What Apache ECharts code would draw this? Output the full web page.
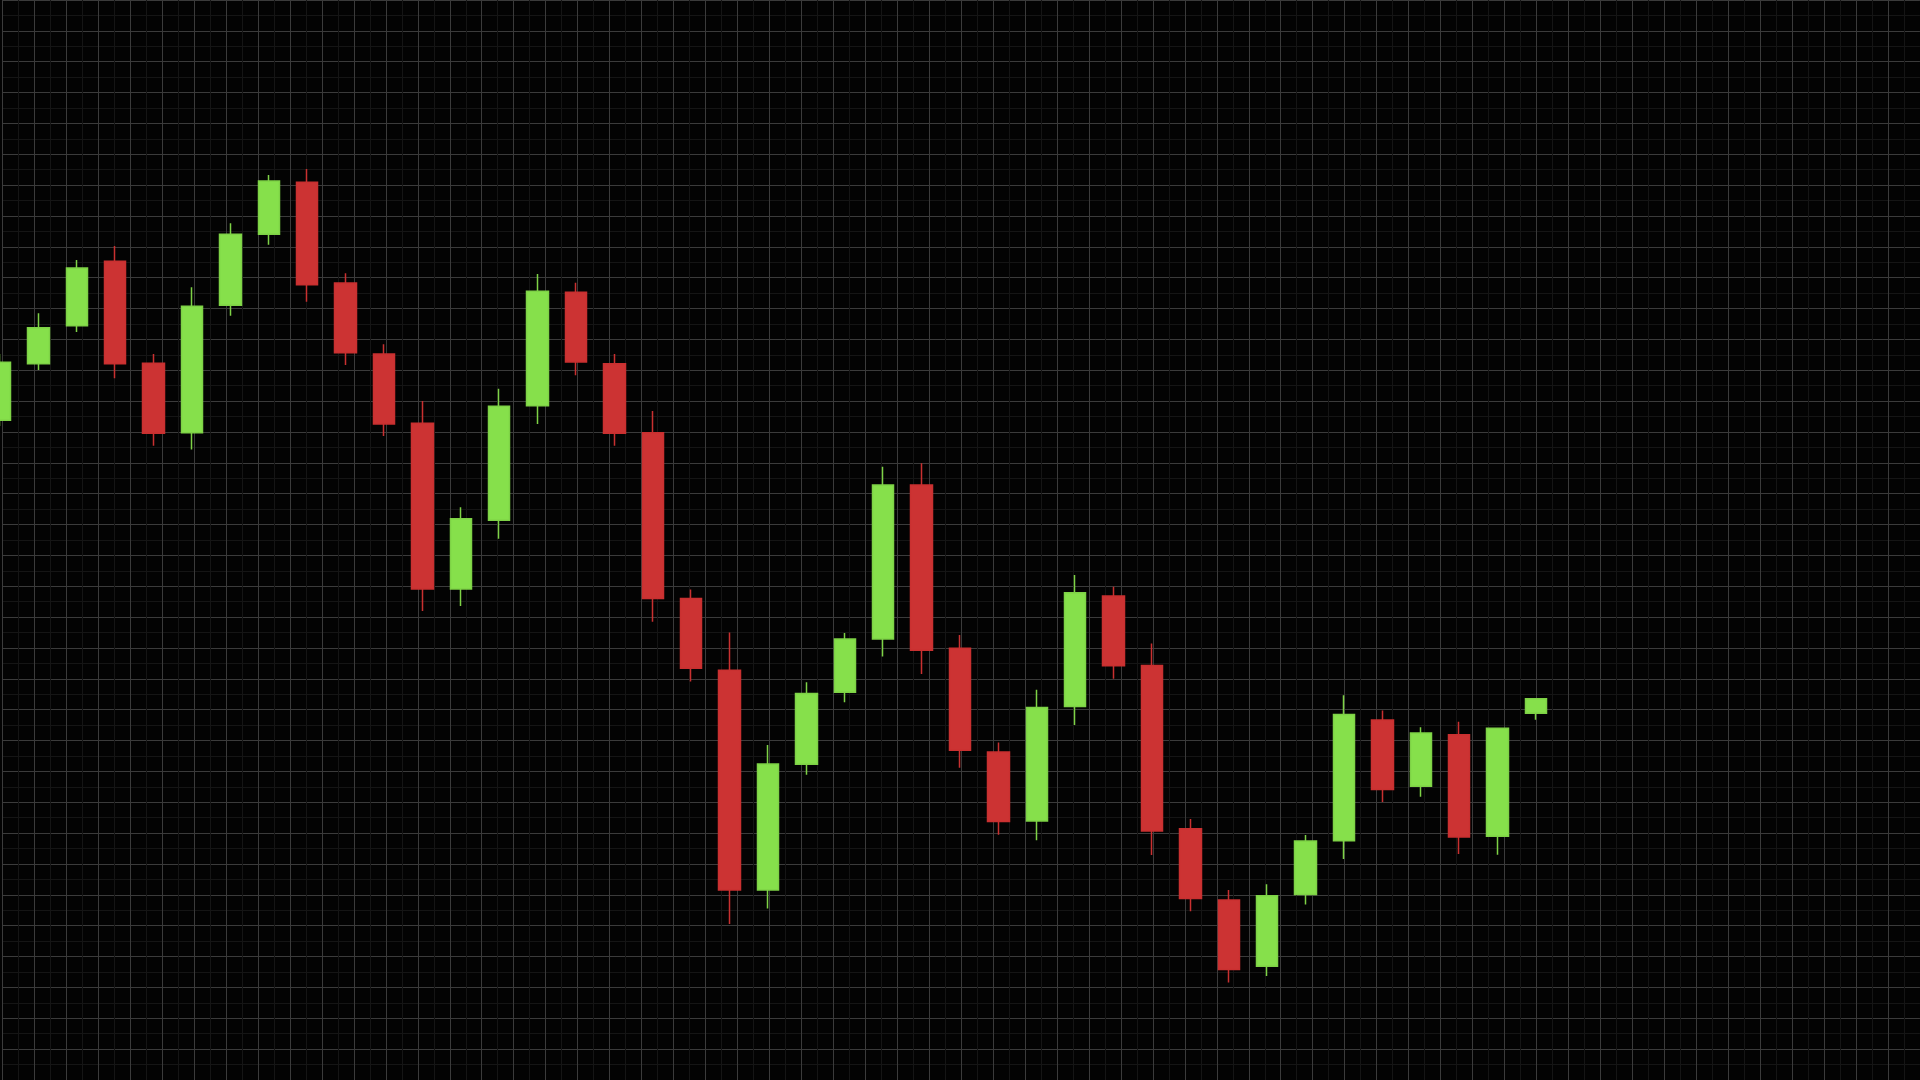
<!DOCTYPE html>
<html>
<head>
<meta charset="utf-8">
<title>Candlestick</title>
<script src="https://cdn.jsdelivr.net/npm/echarts@6/dist/echarts.min.js"></script>
<style>
  html, body { margin: 0; padding: 0; background: #030303; }
  #chart { width: 1920px; height: 1080px; }
</style>
</head>
<body>
<div id="chart"></div>
<script>
// ---- Data (price units; no axis labels shown in the reference) ----
const categories = ['1','2','3','4','5','6','7','8','9','10','11','12','13','14','15','16','17','18','19','20',
  '21','22','23','24','25','26','27','28','29','30','31','32','33','34','35','36','37','38','39','40','41'];
const opens  = [659.7,716.3,754.3,818.7,716.7,647.3,774.7,845.7,897.7,797,726,656.7,491,559.7,674.3,787.7,716.3,647.3,481.5,409.8,
  190,315.7,387.8,440.9,595.1,431.7,328.1,258.9,373.6,484.1,414.6,251.2,180,113.7,185.6,239.3,360,293.7,345.3,243.7,366.7];
const closes = [717.7,752.3,812,716.3,646.7,773.7,845.7,899,795.3,727.3,656,491,561.3,673.7,788.7,718,646.7,481.5,411.8,190,
  316.1,386.5,440.9,595.1,429.7,329.8,258.4,372.5,487.2,414.3,249.1,181.4,110.5,184.2,238.9,365.4,290.4,347,243,351.7,381.3];
const lows   = [654,710,748,701.7,634.3,630.6,764.3,835.3,778.3,715,644,469,474,541.3,656,704.7,634.3,458.3,398.6,156,
  171.4,305.3,377.8,423.4,406,312.3,245.2,239.8,355,401.3,224.9,168.7,97.6,103.9,175.4,221,277.9,283.3,226,225.3,360.3];
const highs  = [726,766.7,820,834,726,792.7,856.7,905,911,806.7,735.7,679,572.7,691.3,806,797.3,726,668.9,490.6,447.5,
  335.1,397.7,447.1,613.3,616.7,445,337.6,390.3,505.1,493.2,436.4,261,190.1,195.8,244.9,384.8,369.4,352.7,358.3,351.7,381.3];

const candleData = opens.map((o, i) => [o, closes[i], lows[i], highs[i]]);

const chart = echarts.init(document.getElementById('chart'), null, { renderer: 'canvas' });
const SCALE = 31.96 / 32; // grid cell size in pixels per 32 units

const majorLine = { show: true, lineStyle: { color: '#3b3b3b', width: 1 } };
const minorLine = { show: true, lineStyle: { color: '#151515', width: 1 } };

const option = {
  backgroundColor: '#030303',
  animation: false,
  grid: [
    { left: 0, width: 1536, top: 0, height: 1080, show: false },
    { left: 2.34, width: 1920 * SCALE, top: -2.66, height: 1120 * SCALE, show: false }
  ],
  xAxis: [
    {
      type: 'category', gridIndex: 0, data: categories, boundaryGap: false,
      axisLine: { show: false }, axisTick: { show: false }, axisLabel: { show: false },
      splitLine: { show: false }
    },
    {
      type: 'value', gridIndex: 1, min: 0, max: 1920, interval: 32,
      axisLine: { show: false }, axisTick: { show: false }, axisLabel: { show: false },
      splitLine: majorLine,
      minorTick: { show: false, splitNumber: 2 },
      minorSplitLine: minorLine
    }
  ],
  yAxis: [
    {
      type: 'value', gridIndex: 0, min: 0, max: 1080, scale: false,
      axisLine: { show: false }, axisTick: { show: false }, axisLabel: { show: false },
      splitLine: { show: false }
    },
    {
      type: 'value', gridIndex: 1, min: 0, max: 1120, interval: 32, inverse: true,
      axisLine: { show: false }, axisTick: { show: false }, axisLabel: { show: false },
      splitLine: majorLine,
      minorTick: { show: false, splitNumber: 2 },
      minorSplitLine: minorLine
    }
  ],
  series: [
    {
      type: 'candlestick',
      xAxisIndex: 0, yAxisIndex: 0,
      data: candleData,
      barWidth: 22,
      clip: false,
      itemStyle: {
        color: '#86E04B',
        color0: '#CC3333',
        borderColor: '#7ED246',
        borderColor0: '#C93030',
        borderWidth: 1.5
      }
    }
  ]
};
chart.setOption(option);
</script>
</body>
</html>
